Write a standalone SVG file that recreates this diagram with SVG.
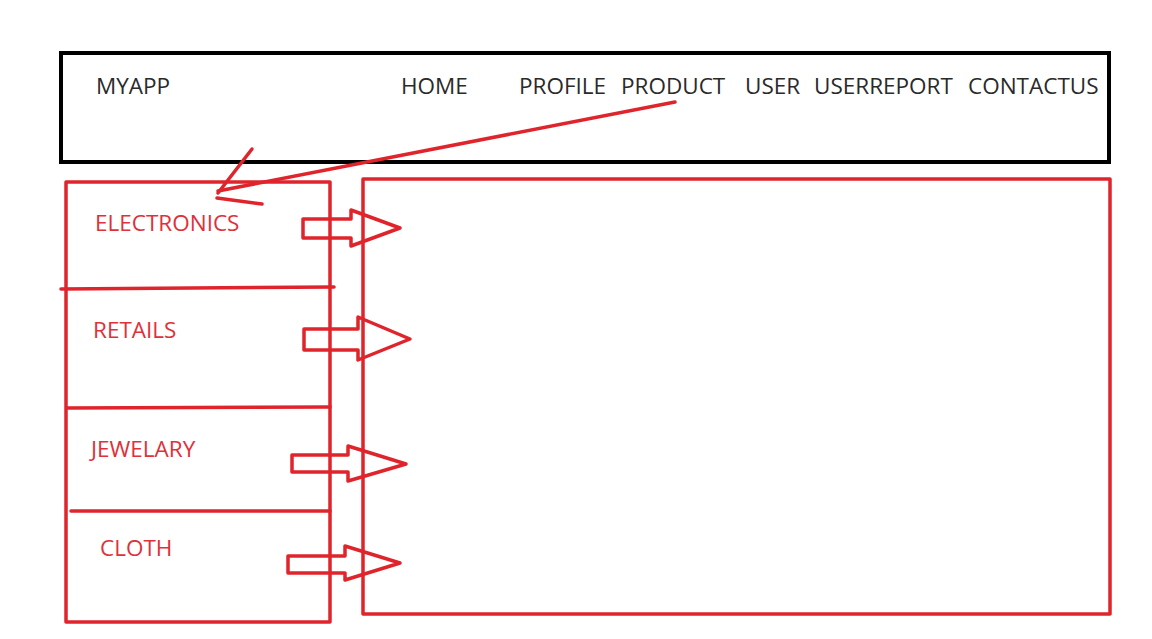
<svg xmlns="http://www.w3.org/2000/svg" width="1152" height="639" viewBox="0 0 1152 639">
<style>
.nav{font-family:"Open Sans","Liberation Sans",sans-serif;font-size:22.5px;fill:#2a2a2a}
.lbl{font-family:"Open Sans","Liberation Sans",sans-serif;font-size:22.5px;fill:#e0303a}
.red{fill:none;stroke:#e0242c;stroke-width:3.5;stroke-linecap:round;stroke-linejoin:round}
</style>
<rect width="1152" height="639" fill="#fff"/>
<g id="header">
<rect x="61" y="53" width="1048" height="109" fill="none" stroke="#000" stroke-width="4"/>
<text class="nav" x="96" y="94">MYAPP</text>
<text class="nav" x="401" y="94">HOME</text>
<text class="nav" x="519" y="94">PROFILE</text>
<text class="nav" x="621" y="94">PRODUCT</text>
<text class="nav" x="745" y="94">USER</text>
<text class="nav" x="814" y="94">USERREPORT</text>
<text class="nav" x="968" y="94">CONTACTUS</text>
</g>
<g id="sidebar">
<rect class="red" x="66" y="182" width="264" height="440"/>
<path class="red" d="M61 289 L334 287"/>
<path class="red" d="M67 408 L330 407"/>
<path class="red" d="M71 511 L330 511"/>
<text class="lbl" x="95" y="231">ELECTRONICS</text>
<text class="lbl" x="93" y="338">RETAILS</text>
<text class="lbl" x="91" y="457">JEWELARY</text>
<text class="lbl" x="100" y="556">CLOTH</text>
</g>
<g id="content">
<rect class="red" x="363" y="179" width="747" height="435"/>
</g>
<g id="connectors">
<path class="red" d="M303 219 L351 219 L351 210 L400 228 L351 246 L351 238 L303 238 Z"/>
<path class="red" d="M304 329 L358 329 L358 317 L410 339 L358 360 L358 350 L304 350 Z"/>
<path class="red" d="M292 455 L348 455 L348 446 L406 464 L348 481 L348 472 L292 472 Z"/>
<path class="red" d="M288 556 L345 556 L345 546 L400 563 L345 580 L345 573 L288 573 Z"/>
<path class="red" d="M675 102 L218 191" stroke-width="4"/>
<path class="red" d="M252 149 L218 193" stroke-width="4"/>
<path class="red" d="M217 198 L262 204" stroke-width="4"/>
</g>
</svg>
